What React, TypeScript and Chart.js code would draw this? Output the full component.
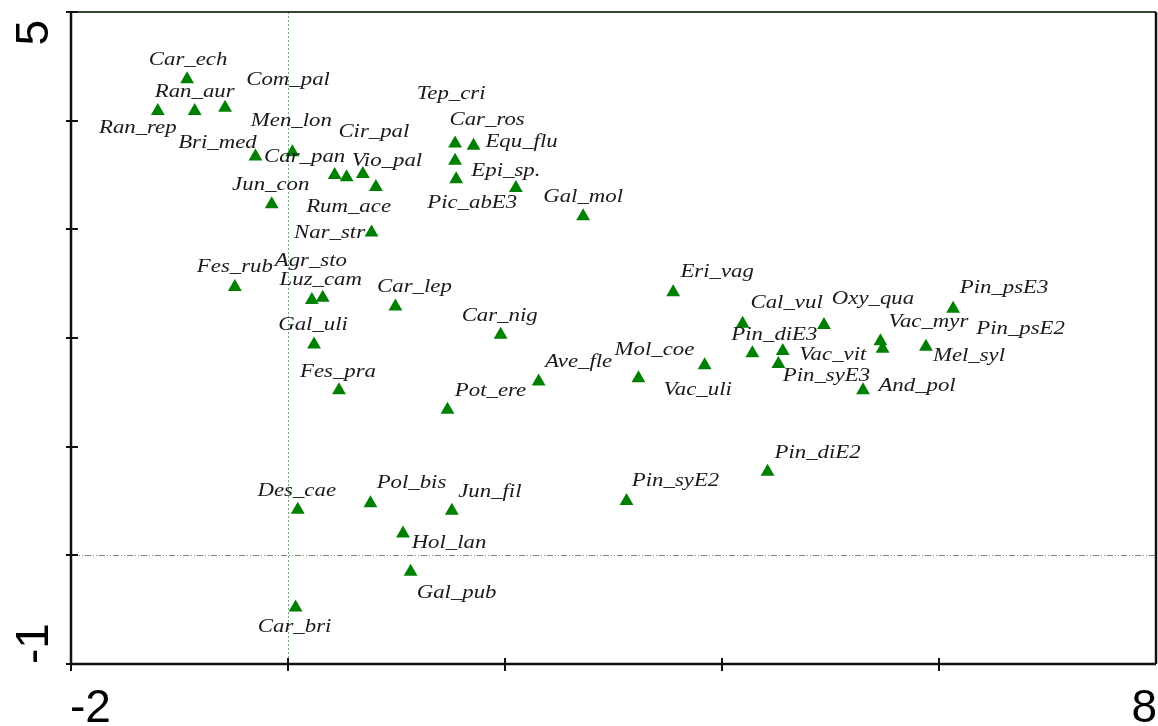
import React, { useEffect, useRef } from "react";
import { Chart, registerables } from "chart.js";

Chart.register(...registerables);

// Species scores on the first two ordination axes
const species = [
  "Car_ech", "Ran_aur", "Ran_rep", "Com_pal", "Bri_med", "Men_lon", "Car_pan", "Rum_ace",
  "Cir_pal", "Vio_pal", "Jun_con", "Nar_str", "Car_ros", "Equ_flu", "Tep_cri", "Pic_abE3",
  "Epi_sp.", "Gal_mol", "Fes_rub", "Agr_sto", "Luz_cam", "Car_lep", "Car_nig", "Gal_uli",
  "Fes_pra", "Pot_ere", "Ave_fle", "Eri_vag", "Mol_coe", "Vac_uli", "Cal_vul", "Oxy_qua",
  "Pin_psE3", "Pin_diE3", "Vac_vit", "Pin_syE3", "Vac_myr", "Pin_psE2", "Mel_syl", "And_pol",
  "Des_cae", "Pol_bis", "Jun_fil", "Hol_lan", "Gal_pub", "Car_bri", "Pin_syE2", "Pin_diE2",
];

const axis1 = [
  -0.93, -0.86, -1.2, -0.58, -0.3, 0.04, 0.43, 0.54,
  0.69, 0.81, -0.15, 0.77, 1.54, 1.71, 1.54, 1.55,
  2.1, 2.72, -0.49, 0.22, 0.32, 0.99, 1.96, 0.24,
  0.47, 1.47, 2.31, 3.55, 3.23, 3.84, 4.19, 4.94,
  6.13, 4.28, 4.56, 4.52, 5.46, 5.48, 5.88, 5.3,
  0.09, 0.76, 1.51, 1.06, 1.13, 0.07, 3.12, 4.42,
];

const axis2 = [
  4.38, 4.09, 4.09, 4.12, 3.67, 3.71, 3.5, 3.48,
  3.51, 3.39, 3.23, 2.97, 3.79, 3.77, 3.63, 3.46,
  3.38, 3.12, 2.47, 2.35, 2.37, 2.29, 2.03, 1.94,
  1.52, 1.34, 1.6, 2.42, 1.63, 1.75, 2.13, 2.12,
  2.27, 1.86, 1.88, 1.76, 1.97, 1.9, 1.92, 1.52,
  0.42, 0.48, 0.41, 0.2, -0.15, -0.48, 0.5, 0.77,
];

// Axis range and the two end labels of each axis
const xMin = -2;
const xMax = 8;
const xStep = 2;
const yMin = -1;
const yMax = 5;
const yStep = 1;
const xTickLabels = ["-2", "8"];
const yTickLabels = ["-1", "5"];

// Label placement (pixel offsets from each marker), kept apart from the scores
const labelDx = [
  1, 0, -20, 63, -38, -1, -30, 2,
  11, 11, -1, -42, 32, 48, -4, 16,
  -10, 0, 0, -1, -2, 19, -1, -1,
  -1, 43, 40, 44, 16, -7, 44, 49,
  51, 22, 50, 48, 48, 138, 43, 54,
  -1, 41, 38, 46, 46, -1, 49, 50,
];
const labelDy = [
  -17, -17, 19, -26, -12, -29, -16, 32,
  -40, -24, -17, 2, -21, -2, -65, 26,
  -15, -17, -18, -37, -16, -17, -17, -18,
  -16, -17, -17, -18, -26, 27, -19, -24,
  -19, -16, 6, 14, -17, -18, 11, -2,
  -17, -18, -17, 11, 23, 22, -18, -17,
];

const MARKER = "#008000";
const LABEL_FONT = "italic 19px 'Liberation Serif', 'DejaVu Serif', serif";
const AXIS_FONT = "46px 'Liberation Sans', Arial, sans-serif";

const framePlugin = {
  id: "ordinationFrame",
  beforeDatasetsDraw(chart: any) {
    const { ctx, chartArea, scales } = chart;
    const { left, right, top, bottom } = chartArea;
    const xs = scales.x;
    const ys = scales.y;
    ctx.save();

    // zero reference lines
    ctx.lineWidth = 1;
    ctx.strokeStyle = "#7aa87a";
    ctx.setLineDash([2, 2]);
    const x0 = Math.round(xs.getPixelForValue(0)) + 0.5;
    ctx.beginPath();
    ctx.moveTo(x0, top);
    ctx.lineTo(x0, bottom);
    ctx.stroke();

    ctx.strokeStyle = "#6f8f6f";
    ctx.setLineDash([6, 2, 1, 2, 1, 2]);
    const y0 = Math.round(ys.getPixelForValue(0)) + 0.5;
    ctx.beginPath();
    ctx.moveTo(left, y0);
    ctx.lineTo(right, y0);
    ctx.stroke();
    ctx.setLineDash([]);

    // frame: top line, right line, axes
    ctx.strokeStyle = "#2f4a2f";
    ctx.lineWidth = 2;
    ctx.beginPath();
    ctx.moveTo(left, top);
    ctx.lineTo(right, top);
    ctx.stroke();

    ctx.strokeStyle = "#111";
    ctx.lineWidth = 2.5;
    ctx.beginPath();
    ctx.moveTo(right, top);
    ctx.lineTo(right, bottom);
    ctx.stroke();

    ctx.lineWidth = 2.5;
    ctx.beginPath();
    ctx.moveTo(left, top);
    ctx.lineTo(left, bottom);
    ctx.lineTo(right, bottom);
    ctx.stroke();

    // tick marks crossing the axes
    ctx.lineWidth = 2;
    ys.ticks.forEach((t: any) => {
      const py = Math.round(ys.getPixelForValue(t.value));
      ctx.beginPath();
      ctx.moveTo(left - 5, py);
      ctx.lineTo(left + 7, py);
      ctx.stroke();
    });
    xs.ticks.forEach((t: any) => {
      const px = Math.round(xs.getPixelForValue(t.value));
      if (px >= right - 1) return;
      ctx.beginPath();
      ctx.moveTo(px, bottom - 6);
      ctx.lineTo(px, bottom + 7);
      ctx.stroke();
    });

    // end labels of the axes
    ctx.fillStyle = "#000";
    ctx.font = AXIS_FONT;
    ctx.textBaseline = "alphabetic";
    ctx.textAlign = "left";
    ctx.fillText(xTickLabels[0], xs.getPixelForValue(xMin) - 1, bottom + 58);
    ctx.textAlign = "right";
    ctx.fillText(xTickLabels[1], xs.getPixelForValue(xMax) + 1, bottom + 58);

    ctx.save();
    ctx.translate(left - 23, ys.getPixelForValue(yMin));
    ctx.rotate(-Math.PI / 2);
    ctx.textAlign = "left";
    ctx.fillText(yTickLabels[0], 0, 0);
    ctx.restore();

    ctx.save();
    ctx.translate(left - 23, ys.getPixelForValue(yMax) + 8);
    ctx.rotate(-Math.PI / 2);
    ctx.textAlign = "right";
    ctx.fillText(yTickLabels[1], 0, 0);
    ctx.restore();

    ctx.restore();
  },
  afterDatasetsDraw(chart: any) {
    const { ctx } = chart;
    const meta = chart.getDatasetMeta(0);
    ctx.save();
    ctx.font = LABEL_FONT;
    ctx.fillStyle = "#1a1a1a";
    ctx.textAlign = "center";
    ctx.textBaseline = "middle";
    meta.data.forEach((pt: any, i: number) => {
      ctx.save();
      // labels are placed relative to the visual middle of the triangle
      ctx.translate(pt.x + labelDx[i], pt.y - 2 + labelDy[i]);
      ctx.scale(1.2, 1);
      ctx.fillText(species[i], 0, 0);
      ctx.restore();
    });
    ctx.restore();
  },
};

export default function App() {
  const canvasRef = useRef<HTMLCanvasElement | null>(null);

  useEffect(() => {
    if (!canvasRef.current) return;
    const chart = new Chart(canvasRef.current, {
      type: "scatter",
      data: {
        datasets: [
          {
            label: "species",
            data: axis1.map((x, i) => ({ x, y: axis2[i] })),
            pointStyle: "triangle",
            pointRadius: 8,
            pointHoverRadius: 8,
            backgroundColor: MARKER,
            borderColor: MARKER,
            borderWidth: 0,
          },
        ],
      },
      options: {
        responsive: false,
        animation: false,
        layout: { autoPadding: false, padding: { left: 71, right: 2, top: 12, bottom: 62 } },
        plugins: {
          legend: { display: false },
          tooltip: { enabled: false },
        },
        scales: {
          x: {
            type: "linear",
            min: xMin,
            max: xMax,
            ticks: { stepSize: xStep, display: false },
            grid: { display: false, drawTicks: false },
            border: { display: false },
          },
          y: {
            type: "linear",
            min: yMin,
            max: yMax,
            ticks: { stepSize: yStep, display: false },
            grid: { display: false, drawTicks: false },
            border: { display: false },
          },
        },
      },
      plugins: [framePlugin],
    });
    return () => chart.destroy();
  }, []);

  return (
    <div style={{ position: "absolute", left: 0, top: 0, width: 1158, height: 726, background: "#fff" }}>
      <canvas ref={canvasRef} width={1158} height={726} style={{ display: "block" }} />
    </div>
  );
}
